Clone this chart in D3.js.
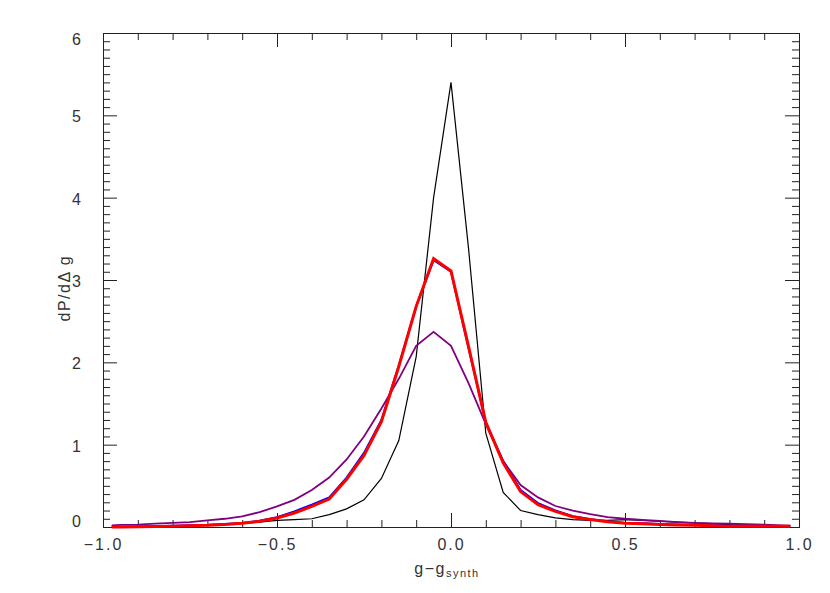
<!DOCTYPE html>
<html>
<head>
<meta charset="utf-8">
<script src="https://cdn.jsdelivr.net/npm/d3@7"></script>
<style>
  body { margin: 0; background: #fff; }
  svg text { font-family: "Liberation Sans", Arial, sans-serif; fill: #333; }
</style>
</head>
<body>
<svg id="chart"></svg>
<script>
// bin centres (g - g_synth)
var xVals = [-0.975, -0.95, -0.9, -0.85, -0.8, -0.75, -0.7, -0.65, -0.6, -0.55, -0.5, -0.45, -0.4, -0.35,
  -0.3, -0.25, -0.2, -0.15, -0.1, -0.05, 0, 0.05, 0.1, 0.15, 0.2, 0.25, 0.3, 0.35, 0.4, 0.45,
  0.5, 0.55, 0.6, 0.65, 0.7, 0.75, 0.8, 0.85, 0.9, 0.95, 0.975];

// series
var blackVals = [0.0, 0.0, 0.005, 0.01, 0.015, 0.02, 0.03, 0.035, 0.045, 0.06, 0.08, 0.09, 0.1, 0.15,
  0.22, 0.33, 0.59, 1.05, 2.07, 4.0, 5.4, 3.4, 1.14, 0.42, 0.2, 0.15, 0.11, 0.09, 0.08, 0.08,
  0.09, 0.08, 0.07, 0.06, 0.05, 0.04, 0.03, 0.025, 0.02, 0.015, 0.01];
var purpleVals = [0.02, 0.025, 0.03, 0.04, 0.05, 0.06, 0.08, 0.1, 0.13, 0.18, 0.25, 0.33, 0.45, 0.6,
  0.82, 1.1, 1.44, 1.8, 2.2, 2.37, 2.2, 1.75, 1.25, 0.8, 0.51, 0.36, 0.255, 0.2, 0.155, 0.12,
  0.1, 0.085, 0.073, 0.06, 0.05, 0.045, 0.04, 0.035, 0.03, 0.02, 0.015];
var blueVals = [0.0, 0.0, 0.005, 0.01, 0.015, 0.02, 0.025, 0.035, 0.05, 0.075, 0.12, 0.19, 0.27, 0.36,
  0.6, 0.9, 1.3, 1.96, 2.68, 3.24, 3.1, 2.18, 1.27, 0.8, 0.45, 0.29, 0.2, 0.13, 0.095, 0.07,
  0.05, 0.045, 0.035, 0.03, 0.025, 0.02, 0.015, 0.012, 0.01, 0.01, 0.01];
var redVals = [0.0, 0.0, 0.003, 0.007, 0.01, 0.015, 0.02, 0.03, 0.045, 0.07, 0.11, 0.17, 0.25, 0.34,
  0.58, 0.87, 1.28, 1.95, 2.68, 3.26, 3.11, 2.2, 1.27, 0.78, 0.43, 0.27, 0.19, 0.125, 0.09, 0.065,
  0.045, 0.04, 0.03, 0.025, 0.02, 0.015, 0.01, 0.01, 0.01, 0.01, 0.01];

var xMajor = [-1.0, -0.5, 0.0, 0.5, 1.0];
var yMajor = [0, 1, 2, 3, 4, 5, 6];

var width = 830, height = 593,
    margin = { top: 33, right: 31, bottom: 66, left: 103 };

var svg = d3.select('#chart').attr('width', width).attr('height', height);

var x = d3.scaleLinear().domain([-1, 1]).range([margin.left, width - margin.right]);
var y = d3.scaleLinear().domain([0, 6]).range([height - margin.bottom, margin.top]);

var xMinor = d3.range(-10, 11).map(function (d) { return d / 10; }).filter(function (d) { return Math.abs(d * 2 - Math.round(d * 2)) > 1e-6; });
var yMinor = d3.range(0, 61).map(function (d) { return d / 10; }).filter(function (d) { return Math.abs(d - Math.round(d)) > 1e-6; });

function styleAxis(g) {
    g.select('.domain').attr('stroke', '#222');
    g.selectAll('.tick line').attr('stroke', '#222');
    g.selectAll('text').attr('font-size', 16).attr('fill', '#333').style('letter-spacing', '2px');
}

var fmtX = function (d) { return d3.format('.1f')(d).replace('-', '\u2212'); };

// bottom axis
svg.append('g').attr('transform', 'translate(0,' + y(0) + ')')
    .call(d3.axisBottom(x).tickValues(xMajor).tickSize(-14).tickPadding(12).tickFormat(fmtX))
    .call(styleAxis);
svg.append('g').attr('transform', 'translate(0,' + y(0) + ')')
    .call(d3.axisBottom(x).tickValues(xMinor).tickSize(-7).tickFormat(''))
    .call(styleAxis);
// top axis
svg.append('g').attr('transform', 'translate(0,' + y(6) + ')')
    .call(d3.axisTop(x).tickValues(xMajor).tickSize(-14).tickFormat(''))
    .call(styleAxis);
svg.append('g').attr('transform', 'translate(0,' + y(6) + ')')
    .call(d3.axisTop(x).tickValues(xMinor).tickSize(-7).tickFormat(''))
    .call(styleAxis);
// left axis
var yAxisG = svg.append('g').attr('transform', 'translate(' + x(-1) + ',0)')
    .call(d3.axisLeft(y).tickValues(yMajor).tickSize(-14).tickPadding(20).tickFormat(d3.format('d')))
    .call(styleAxis);
yAxisG.selectAll('.tick text').attr('dy', function (d) {
    if (d === 0) return '-0.05em';
    if (d === 6) return '0.7em';
    return '0.4em';
});
svg.append('g').attr('transform', 'translate(' + x(-1) + ',0)')
    .call(d3.axisLeft(y).tickValues(yMinor).tickSize(-7).tickFormat(''))
    .call(styleAxis);
// right axis
svg.append('g').attr('transform', 'translate(' + x(1) + ',0)')
    .call(d3.axisRight(y).tickValues(yMajor).tickSize(-14).tickFormat(''))
    .call(styleAxis);
svg.append('g').attr('transform', 'translate(' + x(1) + ',0)')
    .call(d3.axisRight(y).tickValues(yMinor).tickSize(-7).tickFormat(''))
    .call(styleAxis);

// curves
var line = d3.line()
    .x(function (d) { return x(d[0]); })
    .y(function (d) { return y(d[1]); });

var series = [
    { vals: blackVals, color: '#000000', w: 1.2 },
    { vals: purpleVals, color: '#800080', w: 1.8 },
    { vals: blueVals, color: '#0000ff', w: 2 },
    { vals: redVals, color: '#ff0000', w: 3 }
];

svg.append('g').selectAll('path')
    .data(series)
    .enter().append('path')
    .attr('fill', 'none')
    .attr('stroke', function (d) { return d.color; })
    .attr('stroke-width', function (d) { return d.w; })
    .attr('stroke-linejoin', 'miter')
    .attr('d', function (d) { return line(d3.zip(xVals, d.vals)); });

// axis titles
var xt = svg.append('text')
    .attr('x', x(0) - 4)
    .attr('y', 574)
    .attr('text-anchor', 'middle')
    .attr('font-size', 16)
    .style('letter-spacing', '1.5px');
xt.append('tspan').text('g\u2212g');
xt.append('tspan').attr('font-size', 11).attr('dy', 3).text('synth');

svg.append('text')
    .attr('transform', 'translate(70,' + y(2.9) + ') rotate(-90)')
    .attr('text-anchor', 'middle')
    .attr('font-size', 16)
    .style('letter-spacing', '1.5px')
    .text('dP/d\u0394 g');
</script>
</body>
</html>
